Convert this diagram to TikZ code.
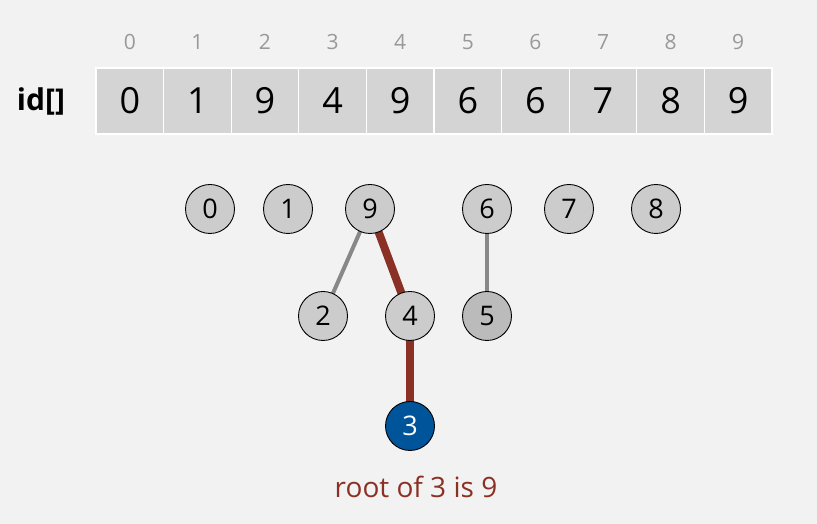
\documentclass[tikz,border=0pt]{standalone}
\usepackage{fontspec}
\setmainfont{Open Sans}
\usetikzlibrary{backgrounds}
\begin{document}
\begin{tikzpicture}[x=1pt,y=1pt,
  cell/.style={draw=white,line width=1.2pt,fill=cellgray,minimum width=67.6pt,minimum height=66pt,inner sep=0pt,font=\fontsize{36}{36}\selectfont},
  idx/.style={text=idxgray,font=\fontsize{21}{21}\selectfont},
  site/.style={circle,draw=black,line width=0.9pt,fill=sitegray,minimum size=49pt,inner sep=0pt,font=\fontsize{27}{27}\selectfont},
  plink/.style={draw=linkgray,line width=4pt},
  hlink/.style={draw=pathred,line width=8pt}]
\definecolor{bg}{HTML}{F2F2F2}
\definecolor{cellgray}{HTML}{D4D4D4}
\definecolor{idxgray}{HTML}{999999}
\definecolor{sitegray}{HTML}{CCCCCC}
\definecolor{darkgray5}{HTML}{BBBBBB}
\definecolor{linkgray}{HTML}{888888}
\definecolor{pathred}{HTML}{8B3024}
\definecolor{rootblue}{HTML}{00559A}
\useasboundingbox (0,0) rectangle (817,524);
\node[font=\bfseries\fontsize{30}{30}\selectfont] (lab) at (41,423) {id[]};
\foreach \v [count=\i from 0] in {0,1,9,4,9,6,6,7,8,9} {
  \node[cell] (c\i) at ({129.8+67.6*\i},423) {\v};
  \node[idx] (i\i) at ({129.8+67.6*\i},482) {\i};
}
\node[site] (n0) at (210,315) {0};
\node[site] (n1) at (288,315) {1};
\node[site] (n9) at (370,315) {9};
\node[site] (n6) at (487,315) {6};
\node[site] (n7) at (569,315) {7};
\node[site] (n8) at (656,315) {8};
\node[site] (n2) at (323,208) {2};
\node[site] (n4) at (410,208) {4};
\node[site,fill=darkgray5] (n5) at (487,208) {5};
\node[site,fill=rootblue,text=white] (n3) at (410,98) {3};
\node[text=pathred,font=\fontsize{28}{28}\selectfont] (msg) at (416,37) {root of 3 is 9};
\begin{scope}[on background layer]
\fill[bg] (0,0) rectangle (817,524);
\draw[plink] (n9.center) -- (n2.center);
\draw[plink] (n6.center) -- (n5.center);
\draw[hlink] (n9.center) -- (n4.center);
\draw[hlink] (n4.center) -- (n3.center);
\end{scope}
\end{tikzpicture}
\end{document}
